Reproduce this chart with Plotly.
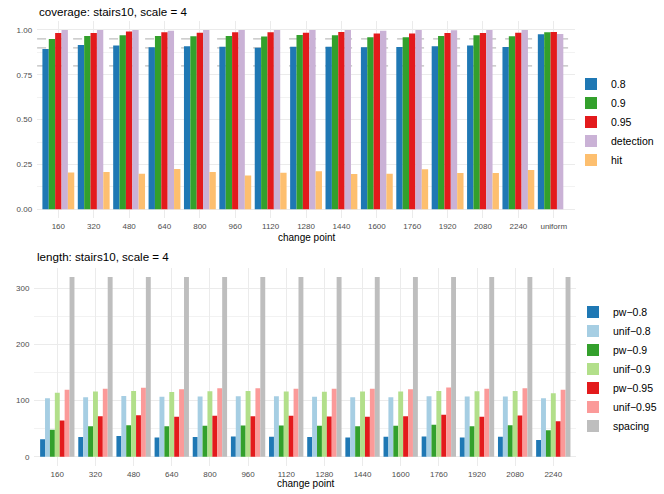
import plotly.graph_objects as go

W, H = 664, 494

# ---------------- data ----------------
cov_categories = ["160", "320", "480", "640", "800", "960", "1120", "1280", "1440",
                  "1600", "1760", "1920", "2080", "2240", "uniform"]
cov_08 = [0.894, 0.916, 0.914, 0.903, 0.909, 0.907, 0.901, 0.907, 0.907, 0.903, 0.905, 0.909, 0.914, 0.905, 0.976]
cov_09 = [0.950, 0.967, 0.970, 0.967, 0.965, 0.967, 0.963, 0.972, 0.970, 0.959, 0.959, 0.967, 0.970, 0.965, 0.987]
cov_095 = [0.983, 0.983, 0.991, 0.987, 0.985, 0.987, 0.987, 0.985, 0.989, 0.981, 0.980, 0.983, 0.983, 0.985, 0.989]
cov_detection = [1.0, 1.0, 1.0, 0.996, 1.0, 1.0, 1.0, 1.0, 1.0, 0.996, 1.0, 0.998, 1.0, 1.0, 0.978]
cov_hit = [0.206, 0.208, 0.199, 0.225, 0.208, 0.188, 0.204, 0.212, 0.197, 0.199, 0.223, 0.203, 0.203, 0.219, None]
cov_reference_levels = [0.8, 0.9, 0.95]

len_categories = ["160", "320", "480", "640", "800", "960", "1120", "1280", "1440",
                  "1600", "1760", "1920", "2080", "2240"]
pw_08 = [31, 35, 37, 34, 35, 36, 35.5, 35, 34.3, 35.5, 36, 34.3, 35.5, 29.6]
unif_08 = [104, 106, 108, 106.5, 107, 107.7, 107.7, 106.5, 106, 106, 107.7, 107, 107, 104]
pw_09 = [48, 54, 56, 54, 55, 55.6, 55.6, 55, 54, 55, 56.8, 54, 56, 47.3]
unif_09 = [114, 116, 117, 115, 116.5, 117, 116, 115.4, 116, 116, 117, 116.6, 117, 113]
pw_095 = [64.5, 72, 74, 71, 73, 72, 72.8, 71.6, 71, 72, 74.6, 71, 73.4, 63.3]
unif_095 = [119, 121, 122.5, 120, 122, 122, 121, 121, 121, 120, 123, 121, 122, 119]
spacing = [320, 320, 320, 320, 320, 320, 320, 320, 320, 320, 320, 320, 320, 320]

# ---------------- styling ----------------
FONT = "Liberation Sans"
GRID = "#EBEBEB"
TICK_COLOR = "#4D4D4D"

cov_series = [
    ("0.8", cov_08, "#1F78B4"),
    ("0.9", cov_09, "#33A02C"),
    ("0.95", cov_095, "#E31A1C"),
    ("detection", cov_detection, "#CAB2D6"),
    ("hit", cov_hit, "#FDBF6F"),
]
len_series = [
    ("pw\u22120.8", pw_08, "#1F78B4"),
    ("unif\u22120.8", unif_08, "#A6CEE3"),
    ("pw\u22120.9", pw_09, "#33A02C"),
    ("unif\u22120.9", unif_09, "#B2DF8A"),
    ("pw\u22120.95", pw_095, "#E31A1C"),
    ("unif\u22120.95", unif_095, "#FB9A99"),
    ("spacing", spacing, "#BEBEBE"),
]

fig = go.Figure()
for name, vals, col in cov_series:
    fig.add_trace(go.Bar(x=cov_categories, y=vals, name=name, marker_color=col,
                         marker_line_width=0, xaxis="x", yaxis="y", legend="legend",
                         offsetgroup=name))
for name, vals, col in len_series:
    fig.add_trace(go.Bar(x=len_categories, y=vals, name=name, marker_color=col,
                         marker_line_width=0, xaxis="x2", yaxis="y2", legend="legend2",
                         offsetgroup=name))

for lvl in cov_reference_levels:
    fig.add_shape(type="line", xref="x domain", yref="y", x0=0, x1=1, y0=lvl, y1=lvl,
                  line=dict(color="#BEBEBE", width=1.2, dash="dash"), layer="below")

def px_x(p):
    return p / W

def px_y(p):
    return 1 - p / H

axis_common = dict(showline=False, zeroline=False, ticks="", gridcolor=GRID, gridwidth=1,
                   tickfont=dict(family=FONT, size=8, color=TICK_COLOR))

fig.update_layout(
    width=W, height=H,
    margin=dict(l=0, r=0, t=0, b=0),
    paper_bgcolor="white", plot_bgcolor="white",
    barmode="group", bargap=0.1, bargroupgap=0,
    font=dict(family=FONT, color="black"),
    xaxis=dict(domain=[px_x(37.1), px_x(575)], anchor="y", type="category",
               range=[-0.6, len(cov_categories) - 0.4], showgrid=True,
               ticklabelstandoff=2, **axis_common),
    yaxis=dict(domain=[px_y(218.3), px_y(21)], anchor="x", range=[-0.05, 1.05],
               tickvals=[0, 0.25, 0.5, 0.75, 1.0], tickformat=".2f", showgrid=True,
               ticklabelstandoff=4,
               minor=dict(tickvals=[0.125, 0.375, 0.625, 0.875], showgrid=True,
                          gridcolor="#F2F2F2", gridwidth=0.6),
               **axis_common),
    xaxis2=dict(domain=[px_x(34.4), px_x(576.2)], anchor="y2", type="category",
                range=[-0.6, len(len_categories) - 0.4], showgrid=True,
                ticklabelstandoff=2, **axis_common),
    yaxis2=dict(domain=[px_y(465.7), px_y(267.9)], anchor="x2", range=[-16, 336],
                tickvals=[0, 100, 200, 300], showgrid=True, ticklabelstandoff=4,
                minor=dict(tickvals=[50, 150, 250], showgrid=True,
                           gridcolor="#F2F2F2", gridwidth=0.6),
                **axis_common),
    legend=dict(x=px_x(571), y=px_y(122), xanchor="left", yanchor="middle",
                font=dict(family=FONT, size=10.5, color="black"), bgcolor="rgba(0,0,0,0)",
                tracegroupgap=0),
    legend2=dict(x=px_x(573), y=px_y(369), xanchor="left", yanchor="middle",
                 font=dict(family=FONT, size=10.5, color="black"), bgcolor="rgba(0,0,0,0)",
                 tracegroupgap=0),
    showlegend=True,
)

annotations = [
    dict(text="coverage: stairs10, scale = 4", x=px_x(36.5), y=px_y(11), xanchor="left",
         yanchor="middle", font=dict(size=11.6)),
    dict(text="change point", x=px_x(306), y=px_y(237.5), xanchor="center",
         yanchor="middle", font=dict(size=10)),
    dict(text="length: stairs10, scale = 4", x=px_x(34.5), y=px_y(256.5), xanchor="left",
         yanchor="middle", font=dict(size=11.6)),
    dict(text="change point", x=px_x(305.3), y=px_y(483.5), xanchor="center",
         yanchor="middle", font=dict(size=10)),
]
for a in annotations:
    a.update(xref="paper", yref="paper", showarrow=False)
    a["font"].update(family=FONT, color="black")
fig.update_layout(annotations=annotations)

fig.write_html("out.html", config={"displayModeBar": False},
               post_script="document.body.style.margin='0';")
